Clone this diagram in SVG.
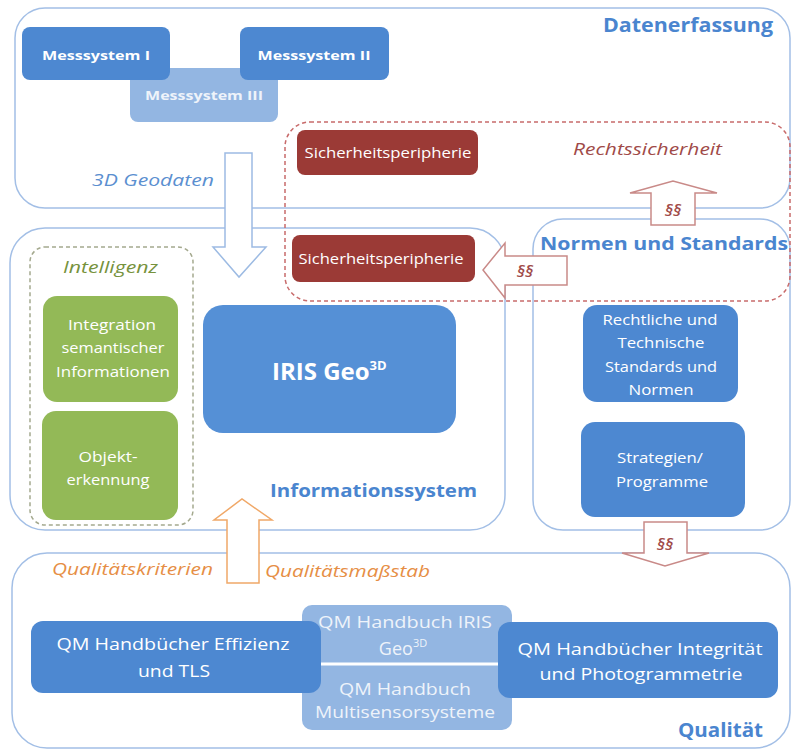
<svg xmlns="http://www.w3.org/2000/svg" width="792" height="751" viewBox="0 0 792 751">
<style>
text{font-family:"Open Sans","Liberation Sans",sans-serif;}
.cont{fill:none;stroke:#a3bfe6;stroke-width:1.5;}
.dashr{fill:none;stroke:#c86b6b;stroke-width:1.5;stroke-dasharray:4 3;}
.dashg{fill:none;stroke:#a4a98e;stroke-width:1.5;stroke-dasharray:4 3;}
.blue{fill:#4d88d1;}
.lblue{fill:#93b6e2;}
.red{fill:#9b3a36;}
.green{fill:#93b957;}
.wt{fill:#ffffff;text-anchor:middle;}
.lt{fill:#eef3fa;text-anchor:middle;}
.lab{fill:#4a85cf;font-weight:bold;}
.itb{fill:#5b8fd0;font-style:italic;}
.itr{fill:#a04a48;font-style:italic;}
.pp{fill:#a04a48;font-style:italic;font-weight:600;font-size:17px;text-anchor:middle;}
.ito{fill:#e68e45;font-style:italic;}
.itg{fill:#76923c;font-style:italic;}
.ar{fill:#ffffff;stroke-width:1.5;}
</style>

<!-- containers -->
<g id="datenerfassung">
<rect class="cont" x="15" y="8" width="775" height="200" rx="30"/>
<text class="lab" x="603" y="32" font-size="19" textLength="170" lengthAdjust="spacingAndGlyphs">Datenerfassung</text>
<text class="itb" x="92" y="186" font-size="17" textLength="122" lengthAdjust="spacingAndGlyphs">3D Geodaten</text>
</g>
<g id="informationssystem">
<rect class="cont" x="10" y="228" width="495" height="302" rx="35"/>
<text class="lab" x="270" y="497" font-size="18" textLength="207" lengthAdjust="spacingAndGlyphs">Informationssystem</text>
</g>
<g id="normen">
<rect class="cont" x="533" y="219" width="257" height="311" rx="30"/>
<text class="lab" x="540" y="250" font-size="18" textLength="248" lengthAdjust="spacingAndGlyphs">Normen und Standards</text>
</g>
<g id="qualitaet">
<rect class="cont" x="12" y="553" width="778" height="195" rx="35"/>
<text class="lab" x="678" y="737" font-size="19" textLength="85" lengthAdjust="spacingAndGlyphs">Qualität</text>
<text class="ito" x="52" y="575" font-size="17" textLength="161" lengthAdjust="spacingAndGlyphs">Qualitätskriterien</text>
<text class="ito" x="265" y="577" font-size="17" textLength="165" lengthAdjust="spacingAndGlyphs">Qualitätsmaßstab</text>
</g>
<g id="rechtssicherheit">
<rect class="dashr" x="285" y="122" width="505" height="179" rx="25"/>
<text class="itr" x="573" y="155" font-size="16" textLength="149" lengthAdjust="spacingAndGlyphs">Rechtssicherheit</text>
</g>
<g id="intelligenz">
<rect class="dashg" x="30" y="247" width="163" height="278" rx="15"/>
<text class="itg" x="63" y="273" font-size="16" textLength="95" lengthAdjust="spacingAndGlyphs">Intelligenz</text>
</g>

<!-- connectors -->
<g id="connectors">
<path class="ar" stroke="#9dbbe3" d="M225,153 H252 V247 H266 L239,277 L213,247 H225 Z"/>
<path class="ar" stroke="#c98a88" d="M651,225 V193 H630 L673,181 L717,193 H695 V225 Z"/>
<text class="pp" x="673" y="216">§§</text>
<path class="ar" stroke="#c98a88" d="M567,256 H505 V243 L483,270 L505,298 V285 H567 Z"/>
<text class="pp" x="525" y="277">§§</text>
<path class="ar" stroke="#c98a88" d="M644,522 V553 H622 L665,566 L709,553 H687 V522 Z"/>
<text class="pp" x="665" y="550">§§</text>
<path class="ar" stroke="#f0a868" d="M227,583 V520 H214 L242,499 L272,520 H259 V583 Z"/>
</g>

<!-- nodes -->
<g id="messsystem3">
<rect class="lblue" x="130" y="68" width="148" height="54" rx="8"/>
<text class="lt" x="204" y="100" font-size="13" font-weight="bold" textLength="118" lengthAdjust="spacingAndGlyphs">Messsystem III</text>
</g>
<g id="messsystem1">
<rect class="blue" x="22" y="27" width="148" height="53" rx="8"/>
<text class="wt" x="96" y="60" font-size="13" font-weight="bold" textLength="108" lengthAdjust="spacingAndGlyphs">Messsystem I</text>
</g>
<g id="messsystem2">
<rect class="blue" x="240" y="27" width="149" height="53" rx="8"/>
<text class="wt" x="314" y="60" font-size="13" font-weight="bold" textLength="113" lengthAdjust="spacingAndGlyphs">Messsystem II</text>
</g>
<g id="sicherheit1">
<rect class="red" x="297" y="130" width="181" height="45" rx="8"/>
<text class="wt" x="388" y="158" font-size="14" textLength="167" lengthAdjust="spacingAndGlyphs">Sicherheitsperipherie</text>
</g>
<g id="sicherheit2">
<rect class="red" x="292" y="235" width="183" height="47" rx="8"/>
<text class="wt" x="381" y="264" font-size="14" textLength="165" lengthAdjust="spacingAndGlyphs">Sicherheitsperipherie</text>
</g>
<g id="integration">
<rect class="green" x="43" y="296" width="135" height="106" rx="14"/>
<text class="wt" x="112" y="330" font-size="15" textLength="88" lengthAdjust="spacingAndGlyphs">Integration</text>
<text class="wt" x="113" y="353" font-size="15" textLength="103" lengthAdjust="spacingAndGlyphs">semantischer</text>
<text class="wt" x="113" y="377" font-size="15" textLength="114" lengthAdjust="spacingAndGlyphs">Informationen</text>
</g>
<g id="objekterkennung">
<rect class="green" x="42" y="411" width="136" height="109" rx="14"/>
<text class="wt" x="108" y="462" font-size="15" textLength="59" lengthAdjust="spacingAndGlyphs">Objekt-</text>
<text class="wt" x="108" y="485" font-size="15" textLength="83" lengthAdjust="spacingAndGlyphs">erkennung</text>
</g>
<g id="iris">
<rect x="203" y="305" width="253" height="128" rx="20" fill="#5590d6"/>
<text x="272" y="380" font-size="24" font-weight="bold" fill="#ffffff">IRIS Geo<tspan font-size="13" dy="-10">3D</tspan></text>
</g>
<g id="rechtliche">
<rect class="blue" x="583" y="305" width="155" height="97" rx="14"/>
<text class="wt" x="660" y="325" font-size="15" textLength="115" lengthAdjust="spacingAndGlyphs">Rechtliche und</text>
<text class="wt" x="661" y="348" font-size="15" textLength="87" lengthAdjust="spacingAndGlyphs">Technische</text>
<text class="wt" x="661" y="372" font-size="15" textLength="112" lengthAdjust="spacingAndGlyphs">Standards und</text>
<text class="wt" x="661" y="395" font-size="15" textLength="65" lengthAdjust="spacingAndGlyphs">Normen</text>
</g>
<g id="strategien">
<rect class="blue" x="581" y="422" width="164" height="95" rx="14"/>
<text class="wt" x="660" y="463" font-size="15" textLength="86" lengthAdjust="spacingAndGlyphs">Strategien/</text>
<text class="wt" x="662" y="487" font-size="15" textLength="92" lengthAdjust="spacingAndGlyphs">Programme</text>
</g>
<g id="qm-center">
<rect class="lblue" x="302" y="605" width="210" height="125" rx="10"/>
<line x1="302" y1="664" x2="500" y2="664" stroke="#ffffff" stroke-width="3"/>
<text class="lt" x="405" y="628" font-size="17" textLength="174" lengthAdjust="spacingAndGlyphs">QM Handbuch IRIS</text>
<text class="lt" x="403" y="655" font-size="18">Geo<tspan font-size="11" dy="-8">3D</tspan></text>
<text class="lt" x="405" y="695" font-size="17" textLength="132" lengthAdjust="spacingAndGlyphs">QM Handbuch</text>
<text class="lt" x="405" y="718" font-size="17" textLength="180" lengthAdjust="spacingAndGlyphs">Multisensorsysteme</text>
</g>
<g id="qm-left">
<rect class="blue" x="31" y="621" width="290" height="72" rx="12"/>
<text class="wt" x="173" y="650" font-size="17" textLength="233" lengthAdjust="spacingAndGlyphs">QM Handbücher Effizienz</text>
<text class="wt" x="174" y="677" font-size="17" textLength="72" lengthAdjust="spacingAndGlyphs">und TLS</text>
</g>
<g id="qm-right">
<rect class="blue" x="498" y="622" width="280" height="76" rx="12"/>
<text class="wt" x="640" y="655" font-size="17" textLength="245" lengthAdjust="spacingAndGlyphs">QM Handbücher  Integrität</text>
<text class="wt" x="641" y="680" font-size="17" textLength="203" lengthAdjust="spacingAndGlyphs">und Photogrammetrie</text>
</g>
</svg>
